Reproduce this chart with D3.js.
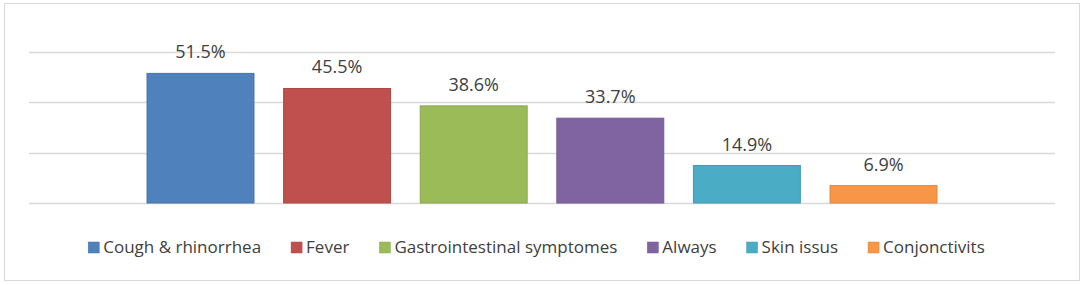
<!DOCTYPE html>
<html>
<head>
<meta charset="utf-8">
<script src="https://cdn.jsdelivr.net/npm/d3@7"></script>
<style>
  body { margin: 0; background: #fff; }
  text { font-family: "Open Sans", "Noto Sans", sans-serif; fill: #404040; }
</style>
</head>
<body>
<svg id="chart"></svg>
<script>
// DATA
const symptoms = ["Cough & rhinorrhea", "Fever", "Gastrointestinal symptomes", "Always", "Skin issus", "Conjonctivits"];
const percents = [51.5, 45.5, 38.6, 33.7, 14.9, 6.9];
const colors = ["#4F81BD", "#C0504D", "#9BBB59", "#8064A2", "#4BACC6", "#F79646"];
const gridTicks = [0, 20, 40, 60];

const width = 1084, height = 285;
const margin = {top: 52, right: 29, bottom: 82, left: 29};

const svg = d3.select("#chart")
    .attr("width", width)
    .attr("height", height);

// outer frame
svg.append("rect")
    .attr("x", 4.5).attr("y", 3.5)
    .attr("width", 1075).attr("height", 277)
    .attr("fill", "#fff")
    .attr("stroke", "#D9D9D9");

// SCALES
const xScale = d3.scaleBand()
    .domain(symptoms)
    .range([margin.left, 1055])
    .paddingInner(0.217)
    .paddingOuter(0.864);

const yScale = d3.scaleLinear()
    .domain([0, 60])
    .range([203, margin.top]);

const colorScale = d3.scaleOrdinal().domain(symptoms).range(colors);

const data = symptoms.map((s, i) => ({name: s, value: percents[i]}));

// GRIDLINES
svg.selectAll("line.grid")
    .data(gridTicks)
    .join("line")
    .attr("class", "grid")
    .attr("x1", margin.left)
    .attr("x2", 1055)
    .attr("y1", d => Math.round(yScale(d)) + 0.5)
    .attr("y2", d => Math.round(yScale(d)) + 0.5)
    .attr("stroke", "#D9D9D9")
    .attr("stroke-width", 1.3);

// BARS
svg.selectAll("rect.bar")
    .data(data)
    .join("rect")
    .attr("class", "bar")
    .attr("x", d => xScale(d.name))
    .attr("y", d => yScale(d.value))
    .attr("width", xScale.bandwidth())
    .attr("height", d => yScale(0) - yScale(d.value))
    .attr("fill", d => colorScale(d.name))
    .attr("stroke", d => d3.color(colorScale(d.name)).darker(0.3))
    .attr("stroke-width", 1);

// BAR LABELS
svg.selectAll("text.bar-label")
    .data(data)
    .join("text")
    .attr("class", "bar-label")
    .attr("x", d => xScale(d.name) + xScale.bandwidth() / 2)
    .attr("y", d => yScale(d.value) - 15)
    .attr("text-anchor", "middle")
    .style("font-size", "18px")
    .text(d => d.value.toFixed(1) + "%");

// LEGEND
const legend = svg.append("g").attr("class", "legend");
const items = legend.selectAll("g.item")
    .data(symptoms)
    .join("g")
    .attr("class", "item");

items.append("rect")
    .attr("width", 11)
    .attr("height", 11)
    .attr("y", -5.5)
    .attr("fill", d => colorScale(d))
    .attr("stroke", d => d3.color(colorScale(d)).darker(0.3))
    .attr("stroke-width", 0.5);

items.append("text")
    .attr("x", 15)
    .attr("dy", "0.35em")
    .style("font-size", "17px")
    .text(d => d);

let cursor = 0;
items.each(function () {
    const w = this.querySelector("text").getComputedTextLength();
    d3.select(this).attr("transform", `translate(${cursor}, 0)`);
    cursor += 15 + w + 30;
});
const legendWidth = cursor - 30;
legend.attr("transform", `translate(${536.5 - legendWidth / 2}, 247.5)`);
</script>
</body>
</html>
